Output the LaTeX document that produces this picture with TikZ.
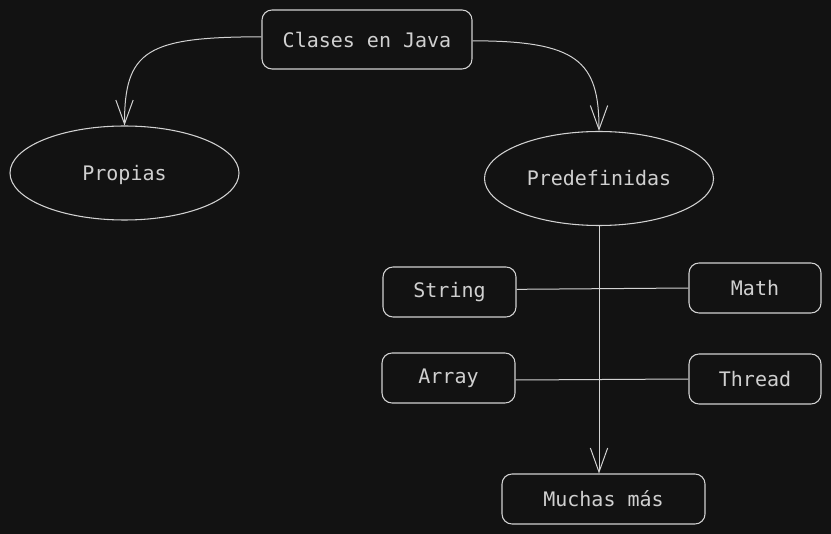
\documentclass[tikz,border=0pt]{standalone}
\usepackage{fontspec}
\setmonofont{DejaVu Sans Mono}
\usetikzlibrary{shapes.geometric,arrows.meta}
\definecolor{bgdark}{HTML}{121212}
\definecolor{inkline}{HTML}{D2D2D2}
\definecolor{inktext}{HTML}{D0D0D0}
\begin{document}
\begin{tikzpicture}[x=0.75pt,y=-0.75pt,
		every node/.style={text=inktext, font=\ttfamily\fontsize{15}{18}\selectfont},
		box/.style={draw=inkline, line width=0.8pt, rounded corners=7.5pt, minimum height=37.5pt},
		oval/.style={draw=inkline, line width=0.8pt, ellipse, inner sep=0pt, minimum width=171.75pt, minimum height=70.5pt},
		link/.style={draw=inkline, line width=0.75pt},
		arr/.style={link, -{Straight Barb[length=18pt,width=13pt,line width=0.75pt]}}]
			% background
			\fill[bgdark] (0,0) rectangle (831,534);

			% top
			\node[box, minimum width=157.5pt, minimum height=44.25pt] (clases) at (367,39.5) {Clases en Java};

			% ellipses
			\node[oval, text depth=-4pt] (propias) at (124.5,173) {Propias};
			\node[oval] (predef) at (599,178.5) {Predefinidas};

			% classes
			\node[box, minimum width=99.75pt] (string) at (449.5,292) {String};
			\node[box, minimum width=99pt] (math) at (755,288) {Math};
			\node[box, minimum width=99.75pt] (array) at (448.5,378) {Array};
			\node[box, minimum width=99pt] (thread) at (755,379) {Thread};
			\node[box, minimum width=152.25pt] (muchas) at (603.5,499) {Muchas más};

			% arrows
			\draw[arr] ([yshift=2pt]clases.west) .. controls +(-115,0) and +(0,-75) .. (propias.north);
			\draw[arr] ([yshift=-1pt]clases.east) .. controls +(105,0) and +(0,-70) .. (predef.north);
			\draw[arr] (predef.south) -- (predef.south |- muchas.north);

			% cross lines
			\draw[link] ([yshift=2pt]string.east) -- (math.west);
			\draw[link] ([yshift=-1.5pt]array.east) -- (thread.west);
		\end{tikzpicture}
\end{document}
